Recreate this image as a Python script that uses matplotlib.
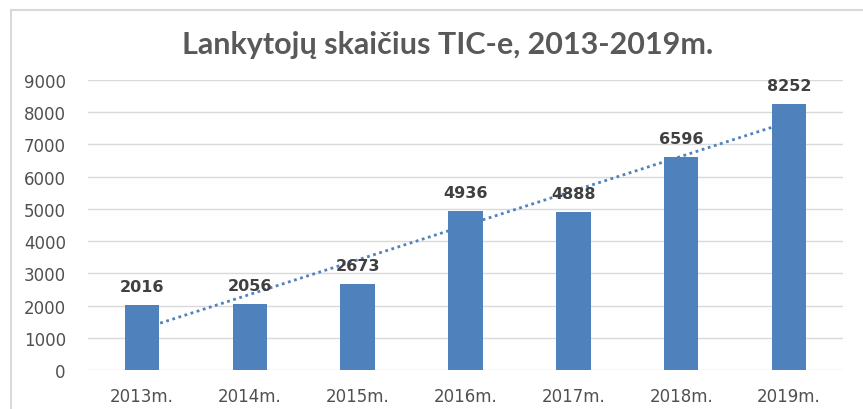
import matplotlib
matplotlib.use('Agg')
import matplotlib.pyplot as plt
from matplotlib.lines import Line2D
import numpy as np

# chart data
years = ['2013m.', '2014m.', '2015m.', '2016m.', '2017m.', '2018m.', '2019m.']
visitors = [2016, 2056, 2673, 4936, 4888, 6596, 8252]
y_ticks = [0, 1000, 2000, 3000, 4000, 5000, 6000, 7000, 8000, 9000]
title = 'Lankytojų skaičius TIC-e, 2013-2019m.'

bar_color = '#4F81BD'

fig = plt.figure(figsize=(8.63, 4.10), dpi=100)
ax = fig.add_axes([88 / 863, 1 - 371 / 410, (843 - 88) / 863, (371 - 81) / 410])

x = np.arange(len(years))
bars = ax.bar(x, visitors, width=0.32, color=bar_color, zorder=3)

# linear trendline, like the excel one
k, b = np.polyfit(x, visitors, 1)
ax.plot(x, k * x + b, color=bar_color, lw=2, linestyle=(0, (1, 1.3)), zorder=4)

for xi, v in zip(x, visitors):
    ax.annotate(str(v), (xi, v), xytext=(0, 8), textcoords='offset points',
                ha='center', va='bottom', fontsize=11.5, fontweight='bold',
                color='#404040', zorder=5)

ax.set_xlim(-0.5, len(years) - 0.5)
ax.set_ylim(0, 9000)
ax.set_yticks(y_ticks)
ax.set_xticks(x)
ax.set_xticklabels(years)
ax.tick_params(axis='both', length=0, labelsize=12, labelcolor='#505050')
ax.tick_params(axis='x', pad=12)
ax.tick_params(axis='y', pad=16)
ax.grid(axis='y', color='#D9D9D9', lw=1, zorder=0)
for s in ax.spines.values():
    s.set_visible(False)

fig.text(448 / 863, 1 - 45 / 410, title, ha='center', va='center',
         fontsize=22, color='#595959', family='Lato', fontweight='bold')

# chart frame, only top and left edges are visible in the crop
fig.add_artist(Line2D([10.5 / 863, 1], [1 - 10.5 / 410, 1 - 10.5 / 410],
                      color='#D9D9D9', lw=1.5, transform=fig.transFigure))
fig.add_artist(Line2D([10.5 / 863, 10.5 / 863], [0, 1 - 10.5 / 410],
                      color='#D9D9D9', lw=1.5, transform=fig.transFigure))

fig.savefig('out.png', dpi=100)
